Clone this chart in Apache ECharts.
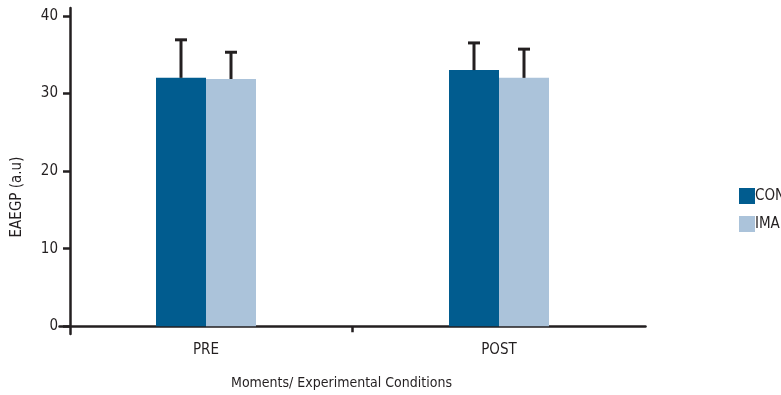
<!DOCTYPE html>
<html>
<head>
<meta charset="utf-8">
<script src="https://cdn.jsdelivr.net/npm/echarts@6/dist/echarts.min.js"></script>
<style>
  html, body { margin: 0; padding: 0; background: #fff; }
  #chart { width: 781px; height: 395px; }
</style>
</head>
<body>
<div id="chart"></div>
<script>
// Experimental moments on the x axis
const moments = ['PRE', 'POST'];
// Group means (a.u) and their standard deviations
const conMean = [32.0, 33.0];
const conSD = [4.9, 3.5];
const imaMean = [31.85, 32.0];
const imaSD = [3.45, 3.7];
// Y-axis tick values
const yTicks = [0, 10, 20, 30, 40];

const INK = '#231f20';
const FONT = "'Liberation Sans Narrow', 'DejaVu Sans Condensed', sans-serif";
const FS = 15;
const BAR_W = 50;
const Y_MIN = -1;
const Y_MAX = 41;
const GRID_TOP = 8;
const GRID_BOTTOM = 61;
// distance in px from the bottom of the grid up to the zero line
const zeroLift = (395 - GRID_TOP - GRID_BOTTOM) * (0 - Y_MIN) / (Y_MAX - Y_MIN);

function errorSeries(name, means, sds, shift) {
  return {
    type: 'custom',
    name: name + ' SD',
    z: 5,
    silent: true,
    data: means.map((m, i) => [i, m, m + sds[i]]),
    encode: { x: 0, y: [1, 2] },
    renderItem(params, api) {
      const base = api.coord([api.value(0), api.value(1)]);
      const top = api.coord([api.value(0), api.value(2)]);
      const x = base[0] + shift;
      return {
        type: 'group',
        children: [
          { type: 'line', shape: { x1: x, y1: base[1], x2: x, y2: top[1] },
            style: { stroke: INK, lineWidth: 3 } },
          { type: 'line', shape: { x1: x - 6, y1: top[1], x2: x + 6, y2: top[1] },
            style: { stroke: INK, lineWidth: 3 } }
        ]
      };
    }
  };
}

const chart = echarts.init(document.getElementById('chart'), null, { renderer: 'canvas' });
chart.setOption({
  animation: false,
  backgroundColor: '#ffffff',
  textStyle: { fontFamily: FONT },
  grid: { left: 59.5, right: 135.5, top: GRID_TOP, bottom: GRID_BOTTOM, containLabel: false, outerBoundsMode: 'none' },
  legend: {
    orient: 'vertical',
    left: 734,
    top: 183,
    itemWidth: 16,
    itemHeight: 16,
    itemGap: 12,
    icon: 'rect',
    textStyle: { fontFamily: FONT, fontSize: FS, color: INK, padding: [0, 0, 0, -5] },
    data: ['CON', 'IMA']
  },
  xAxis: [
    {
      type: 'category',
      data: moments,
      boundaryGap: true,
      position: 'bottom',
      name: 'Moments/ Experimental Conditions',
      nameLocation: 'middle',
      nameGap: 42,
      nameTextStyle: { fontFamily: FONT, fontSize: 14, color: INK, padding: [0, 22, 0, 0] },
      axisLine: { onZero: true, lineStyle: { color: INK, width: 2.5 } },
      axisTick: { show: false },
      axisLabel: { color: INK, fontSize: FS, fontFamily: FONT, margin: 9 },
      splitLine: { show: false }
    },
    {
      // divider tick between the two moments, sitting on the zero line
      type: 'category',
      data: ['', '', ''],
      boundaryGap: false,
      position: 'bottom',
      offset: -zeroLift,
      axisLine: { show: false, onZero: false },
      axisTick: { show: true, interval: (i) => i === 1, length: 6, lineStyle: { color: INK, width: 2.5 } },
      axisLabel: { show: false },
      splitLine: { show: false }
    }
  ],
  yAxis: {
    type: 'value',
    min: Y_MIN,
    max: Y_MAX,
    offset: -10.5,
    name: 'EAEGP (a.u)',
    nameLocation: 'middle',
    nameRotate: 90,
    nameGap: 45,
    nameTextStyle: { fontFamily: FONT, fontSize: FS, color: INK, padding: [0, 52, 0, 0] },
    axisLine: { show: true, onZero: false, lineStyle: { color: INK, width: 2.5 } },
    axisTick: { show: true, customValues: yTicks, length: 7, lineStyle: { color: INK, width: 2.5 } },
    axisLabel: { customValues: yTicks, color: INK, fontSize: FS, fontFamily: FONT, margin: 12 },
    splitLine: { show: false }
  },
  series: [
    { name: 'CON', type: 'bar', data: conMean, barWidth: BAR_W, barGap: '0%',
      itemStyle: { color: '#015c8f' }, z: 2 },
    { name: 'IMA', type: 'bar', data: imaMean, barWidth: BAR_W, barGap: '0%',
      itemStyle: { color: '#abc3da' }, z: 2 },
    errorSeries('CON', conMean, conSD, -BAR_W / 2),
    errorSeries('IMA', imaMean, imaSD, BAR_W / 2)
  ]
});
</script>
</body>
</html>
